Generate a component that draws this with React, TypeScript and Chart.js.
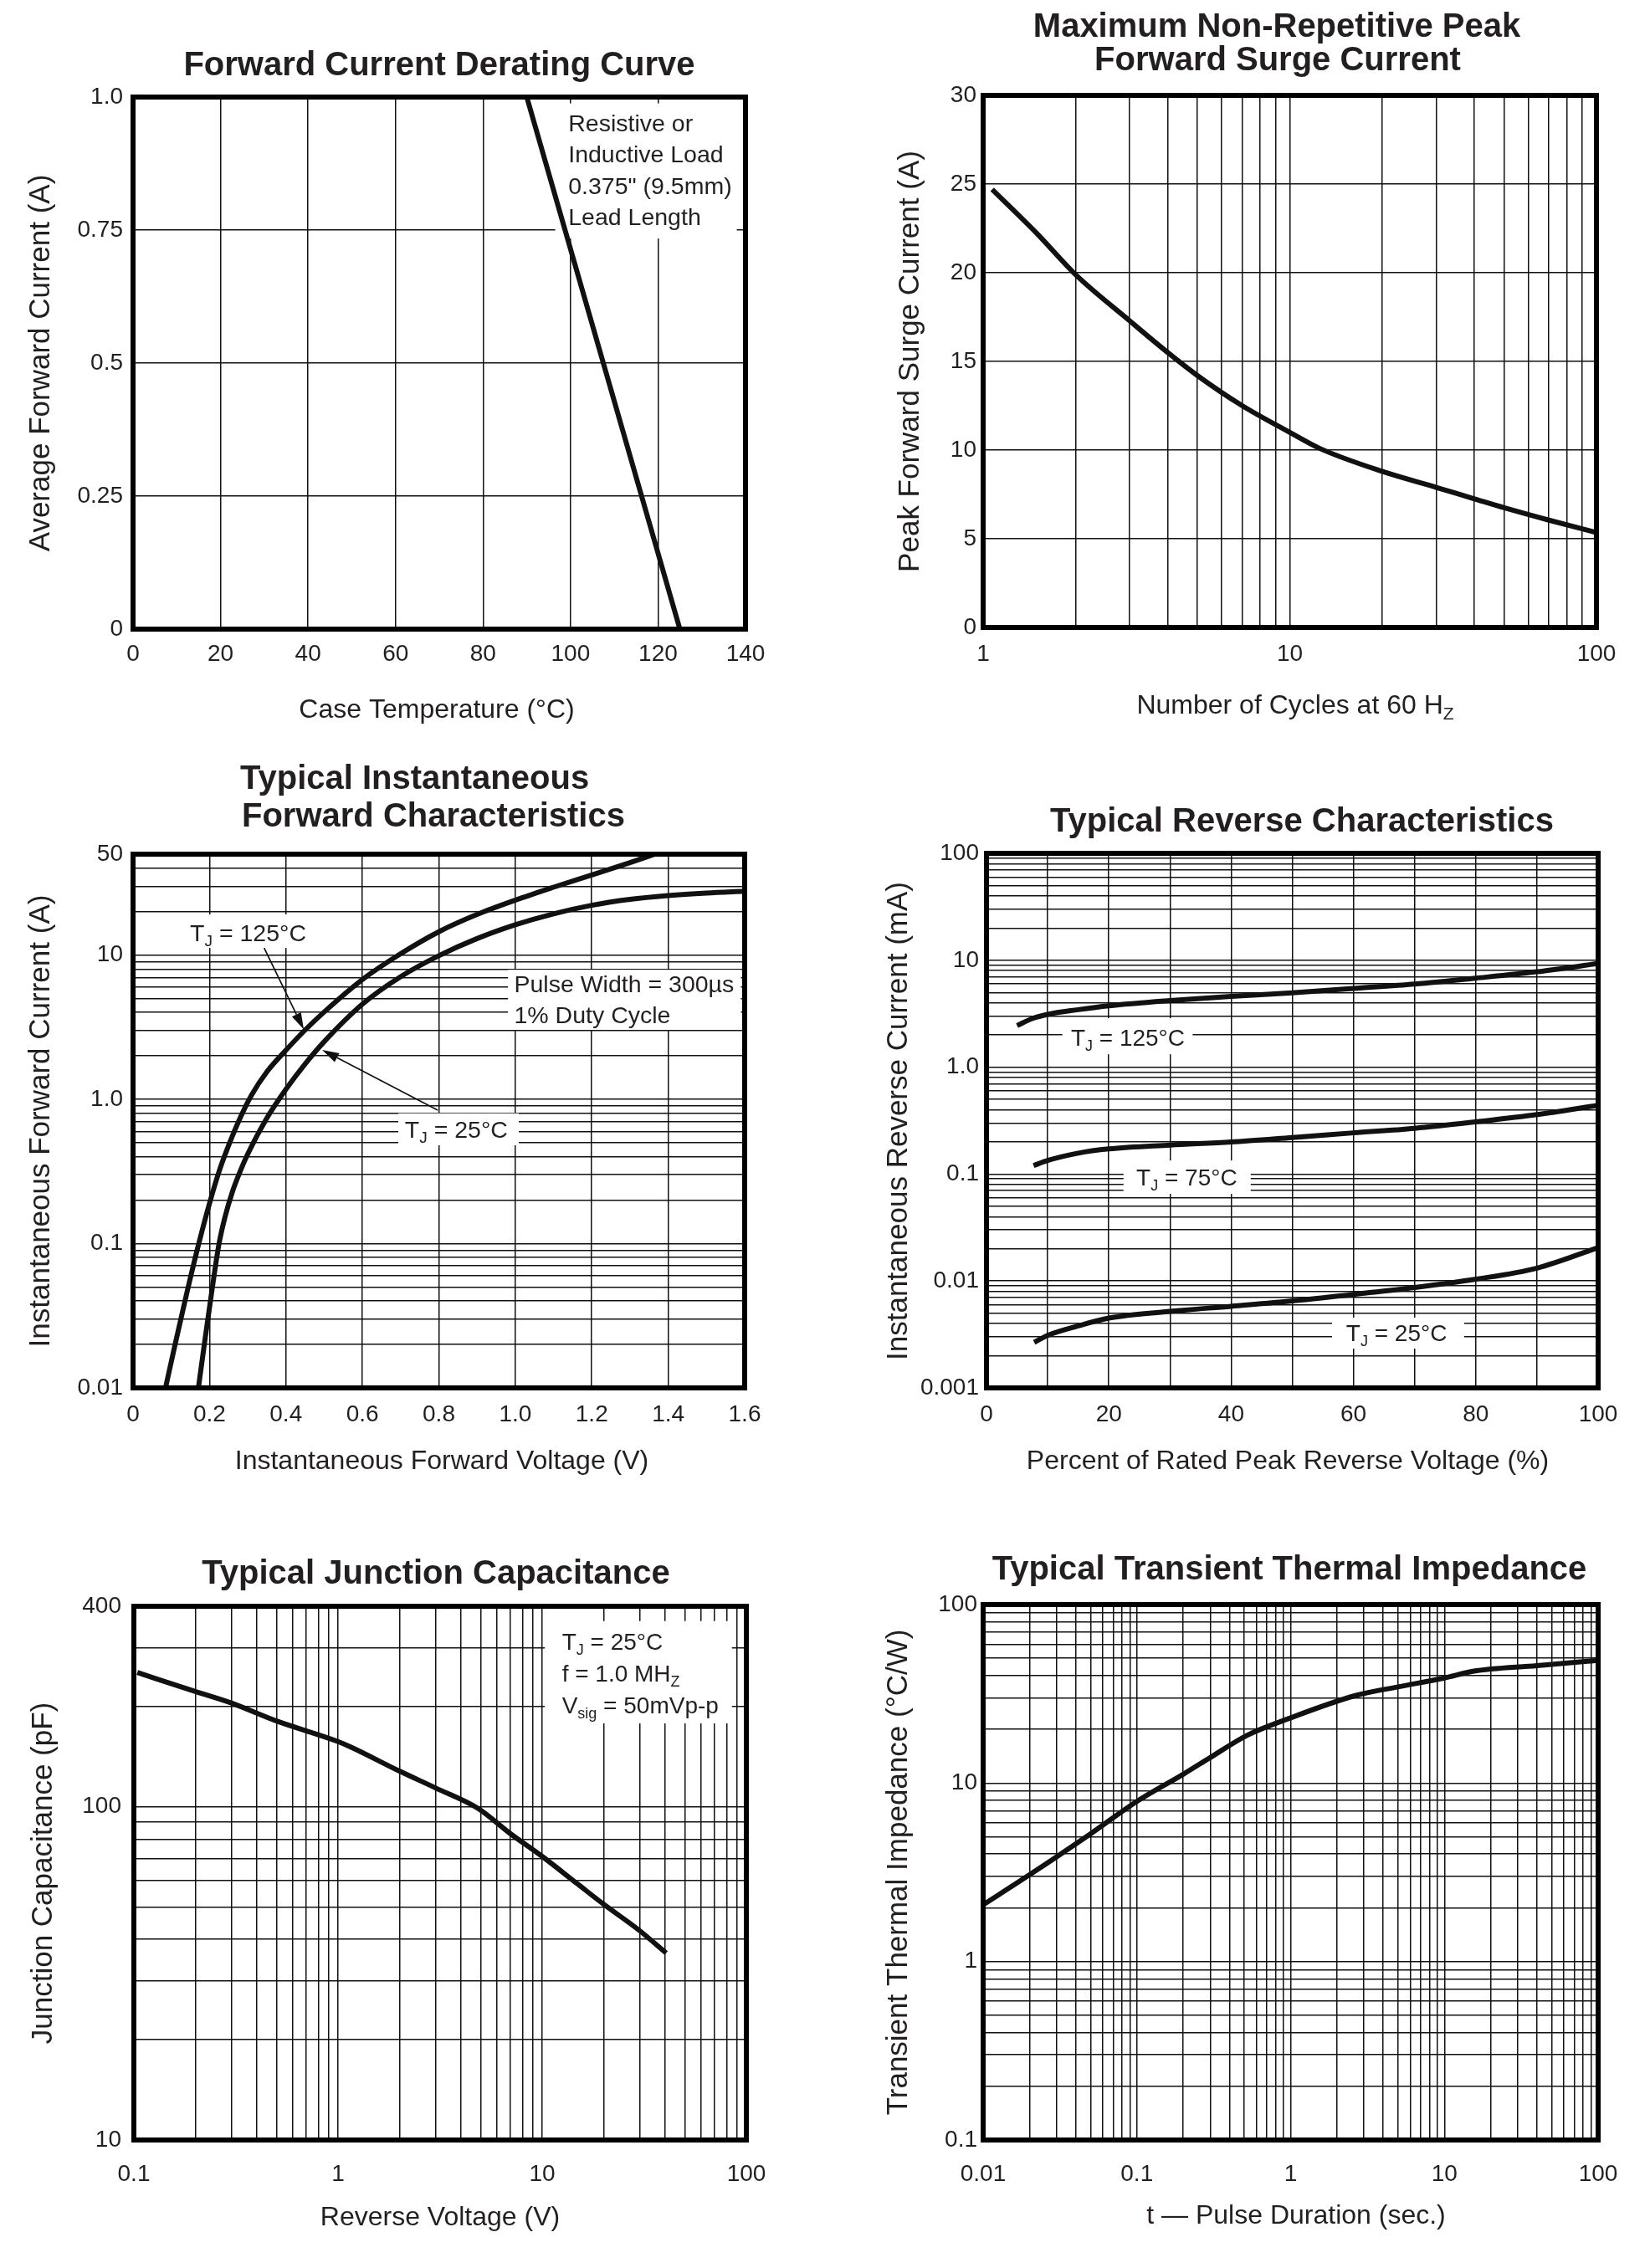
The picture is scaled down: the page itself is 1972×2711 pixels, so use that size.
import React, { useEffect, useRef } from 'react';
import { Chart, registerables } from 'chart.js';

Chart.register(...registerables);

const FONT = "'Liberation Sans', Arial, Helvetica, sans-serif";
const INK = '#231f20';
const LINE = '#111111';

// ---------------- Panel 1: Forward Current Derating Curve ----------------
const derateTempC = [0, 90, 125];
const derateCurrentA = [1.0, 1.0, 0];
const p1XTickValues = [0, 20, 40, 60, 80, 100, 120, 140];
const p1XTickLabels = ['0', '20', '40', '60', '80', '100', '120', '140'];
const p1YTickValues = [0, 0.25, 0.5, 0.75, 1.0];
const p1YTickLabels = ['0', '0.25', '0.5', '0.75', '1.0'];

// ---------------- Panel 2: Peak Forward Surge Current ----------------
const surgeCycles = [1.07, 1.5, 2, 3, 4, 5, 7, 10, 12.5, 20, 30, 40, 50, 70, 100];
const surgeCurrentA = [24.7, 22.2, 19.9, 17.3, 15.5, 14.2, 12.5, 11.0, 10.1, 8.8, 7.9, 7.25, 6.75, 6.05, 5.35];
const p2XLabelValues = [1, 10, 100];
const p2XTickLabels = ['1', '10', '100'];
const p2YTickValues = [0, 5, 10, 15, 20, 25, 30];
const p2YTickLabels = ['0', '5', '10', '15', '20', '25', '30'];

// ---------------- Panel 3: Forward Characteristics ----------------
const fwdV125 = [0.085, 0.11, 0.14, 0.17, 0.2, 0.225, 0.25, 0.28, 0.31, 0.35, 0.4, 0.45, 0.5, 0.6, 0.7, 0.8, 0.9, 1.0, 1.1, 1.2, 1.3, 1.365];
const fwdI125 = [0.01, 0.02, 0.0447, 0.0955, 0.19, 0.316, 0.479, 0.741, 1.07, 1.55, 2.19, 3.02, 4.03, 6.76, 10.2, 14.5, 19.1, 24.0, 29.5, 35.9, 43.7, 50];
const fwdV25 = [0.171, 0.19, 0.205, 0.225, 0.24, 0.26, 0.28, 0.3, 0.35, 0.4, 0.45, 0.5, 0.6, 0.7, 0.8, 0.9, 1.0, 1.1, 1.2, 1.3, 1.4, 1.5, 1.6];
const fwdI25 = [0.01, 0.0234, 0.0447, 0.1, 0.151, 0.229, 0.316, 0.417, 0.741, 1.175, 1.758, 2.51, 4.57, 7.08, 9.89, 13.0, 16.2, 19.3, 22.1, 24.3, 25.8, 26.9, 27.7];
const p3XTickValues = [0, 0.2, 0.4, 0.6, 0.8, 1.0, 1.2, 1.4, 1.6];
const p3XTickLabels = ['0', '0.2', '0.4', '0.6', '0.8', '1.0', '1.2', '1.4', '1.6'];
const p3YLabelValues = [0.01, 0.1, 1, 10, 50];
const p3YTickLabels = ['0.01', '0.1', '1.0', '10', '50'];

// ---------------- Panel 4: Reverse Characteristics ----------------
const revPct125 = [5, 7.5, 10, 15, 20, 30, 40, 50, 60, 70, 80, 90, 100];
const revI125 = [2.45, 2.85, 3.12, 3.45, 3.75, 4.2, 4.6, 4.95, 5.45, 6.0, 6.8, 7.8, 9.3];
const revPct75 = [7.7, 10, 15, 20, 30, 40, 50, 60, 70, 80, 90, 100];
const revI75 = [0.12, 0.134, 0.157, 0.172, 0.187, 0.2, 0.22, 0.243, 0.268, 0.308, 0.36, 0.44];
const revPct25 = [7.8, 10, 15, 20, 30, 40, 50, 60, 70, 80, 90, 100];
const revI25 = [0.00267, 0.0031, 0.0038, 0.0045, 0.0052, 0.0058, 0.0065, 0.0075, 0.0087, 0.0104, 0.0132, 0.0205];
const p4XTickValues = [0, 10, 20, 30, 40, 50, 60, 70, 80, 90, 100];
const p4XLabelValues = [0, 20, 40, 60, 80, 100];
const p4XTickLabels = ['0', '20', '40', '60', '80', '100'];
const p4YLabelValues = [0.001, 0.01, 0.1, 1, 10, 100];
const p4YTickLabels = ['0.001', '0.01', '0.1', '1.0', '10', '100'];

// ---------------- Panel 5: Junction Capacitance ----------------
const capV = [0.104, 0.2, 0.3, 0.5, 1.0, 1.16, 2, 3, 4.84, 7, 10, 15, 20, 30, 40.5];
const capPF = [253, 222, 205, 181, 157, 151, 128, 114, 99, 83, 71, 58.5, 51, 42.5, 36.4];
const p5XLabelValues = [0.1, 1, 10, 100];
const p5XTickLabels = ['0.1', '1', '10', '100'];
const p5YLabelValues = [10, 100, 400];
const p5YTickLabels = ['10', '100', '400'];

// ---------------- Panel 6: Transient Thermal Impedance ----------------
const pulseSec = [0.01, 0.02, 0.05, 0.1, 0.2, 0.3, 0.52, 1, 2.67, 5, 10, 15.3, 40, 100];
const thermalZ = [2.08, 3.06, 5.2, 7.9, 11.2, 13.9, 18.5, 23.2, 31, 34.6, 38.8, 42.3, 45.5, 48.7];
const p6XLabelValues = [0.01, 0.1, 1, 10, 100];
const p6XTickLabels = ['0.01', '0.1', '1', '10', '100'];
const p6YLabelValues = [0.1, 1, 10, 100];
const p6YTickLabels = ['0.1', '1', '10', '100'];

// ---------------- helpers ----------------
type Seg = { t: string; sub?: boolean };
type PageText = { segs: Seg[]; x: number; y: number; size: number; bold?: boolean; align: 'left' | 'center'; vertical?: boolean };
type DataText = { segs: Seg[]; x: number; y: number; size: number };
type Series = { x: number[]; y: number[]; smooth: boolean };
type AxisCfg = { type: 'linear' | 'logarithmic'; min: number; max: number; grid: number[]; labelVals: number[]; labels: string[]; pad: number };
type Panel = {
  cell: { x: number; y: number; w: number; h: number };
  plot: { L: number; T: number; R: number; B: number };
  x: AxisCfg;
  y: AxisCfg;
  series: Series[];
  pageTexts: PageText[];
  dataTexts: DataText[];
  boxes: number[][];
  arrows: number[][];
};

const S = (t: string): Seg[] => [{ t }];
const TJ = (rest: string): Seg[] => [{ t: 'T' }, { t: 'J', sub: true }, { t: rest }];

function logGridValues(min: number, max: number): number[] {
  const out: number[] = [];
  const e0 = Math.floor(Math.log10(min) + 1e-9);
  const e1 = Math.ceil(Math.log10(max) - 1e-9);
  for (let e = e0; e <= e1; e++) {
    for (let m = 1; m <= 9; m++) {
      const v = parseFloat((m * Math.pow(10, e)).toPrecision(6));
      if (v >= min * (1 - 1e-9) && v <= max * (1 + 1e-9)) out.push(v);
    }
  }
  return out;
}

const labeler = (vals: number[], labels: string[]) => (v: any) => {
  const n = Number(v);
  const i = vals.findIndex((t) => Math.abs(t - n) <= Math.abs(t) * 1e-6 + 1e-9);
  return i >= 0 ? labels[i] : '';
};

function drawRich(ctx: CanvasRenderingContext2D, segs: Seg[], x: number, y: number, size: number, bold: boolean, align: 'left' | 'center') {
  const w = bold ? 'bold ' : '';
  const mainFont = `${w}${size}px ${FONT}`;
  const subSize = Math.round(size * 0.66);
  const subFont = `${w}${subSize}px ${FONT}`;
  let total = 0;
  const widths = segs.map((s) => {
    ctx.font = s.sub ? subFont : mainFont;
    const m = ctx.measureText(s.t).width;
    total += m;
    return m;
  });
  let cx = align === 'center' ? x - total / 2 : x;
  ctx.textAlign = 'left';
  ctx.textBaseline = 'alphabetic';
  segs.forEach((s, i) => {
    ctx.font = s.sub ? subFont : mainFont;
    ctx.fillText(s.t, cx, s.sub ? y + size * 0.22 : y);
    cx += widths[i];
  });
}

function drawArrow(ctx: CanvasRenderingContext2D, x1: number, y1: number, x2: number, y2: number) {
  const ang = Math.atan2(y2 - y1, x2 - x1);
  const headL = 20;
  const headW = 6;
  const bx = x2 - headL * Math.cos(ang);
  const by = y2 - headL * Math.sin(ang);
  ctx.beginPath();
  ctx.moveTo(x1, y1);
  ctx.lineTo(bx, by);
  ctx.lineWidth = 1.7;
  ctx.strokeStyle = LINE;
  ctx.stroke();
  ctx.beginPath();
  ctx.moveTo(x2, y2);
  ctx.lineTo(bx + headW * Math.sin(ang), by - headW * Math.cos(ang));
  ctx.lineTo(bx - headW * Math.sin(ang), by + headW * Math.cos(ang));
  ctx.closePath();
  ctx.fillStyle = LINE;
  ctx.fill();
}

function makeDecor(p: Panel) {
  return {
    id: 'decor',
    beforeDatasetsDraw(chart: any) {
      const ctx: CanvasRenderingContext2D = chart.ctx;
      const xs = chart.scales.x;
      const ys = chart.scales.y;
      ctx.save();
      ctx.fillStyle = '#ffffff';
      for (const [x1, y1, x2, y2] of p.boxes) {
        const a = xs.getPixelForValue(x1);
        const b = xs.getPixelForValue(x2);
        const c = ys.getPixelForValue(y2);
        const d = ys.getPixelForValue(y1);
        ctx.fillRect(a, c, b - a, d - c);
      }
      ctx.restore();
    },
    afterDatasetsDraw(chart: any) {
      const ctx: CanvasRenderingContext2D = chart.ctx;
      const xs = chart.scales.x;
      const ys = chart.scales.y;
      const ca = chart.chartArea;
      ctx.save();
      // plot frame
      ctx.strokeStyle = '#000';
      ctx.lineWidth = 6;
      ctx.strokeRect(ca.left, ca.top, ca.right - ca.left, ca.bottom - ca.top);
      // arrows
      for (const [x1, y1, x2, y2] of p.arrows) {
        drawArrow(ctx, xs.getPixelForValue(x1), ys.getPixelForValue(y1), xs.getPixelForValue(x2), ys.getPixelForValue(y2));
      }
      ctx.fillStyle = INK;
      for (const t of p.dataTexts) {
        drawRich(ctx, t.segs, xs.getPixelForValue(t.x), ys.getPixelForValue(t.y), t.size, false, 'left');
      }
      for (const t of p.pageTexts) {
        const px = t.x - p.cell.x;
        const py = t.y - p.cell.y;
        if (t.vertical) {
          ctx.save();
          ctx.translate(px, py);
          ctx.rotate(-Math.PI / 2);
          drawRich(ctx, t.segs, 0, 0, t.size, !!t.bold, 'center');
          ctx.restore();
        } else {
          drawRich(ctx, t.segs, px, py, t.size, !!t.bold, t.align);
        }
      }
      ctx.restore();
    },
  };
}

function axisOptions(a: AxisCfg, horizontal: boolean, fixed: number) {
  return {
    type: a.type,
    position: horizontal ? 'bottom' : 'left',
    min: a.min,
    max: a.max,
    afterBuildTicks: (scale: any) => {
      scale.ticks = a.grid.map((v) => ({ value: v }));
    },
    afterFit: (scale: any) => {
      if (horizontal) scale.height = fixed;
      else scale.width = fixed;
    },
    ticks: {
      autoSkip: false,
      maxRotation: 0,
      minRotation: 0,
      padding: a.pad,
      color: INK,
      font: { family: FONT, size: 28 },
      callback: labeler(a.labelVals, a.labels),
    },
    grid: { color: LINE, lineWidth: 1.5, drawTicks: false },
    border: { display: false },
    title: { display: false },
  };
}

function buildConfig(p: Panel): any {
  const padTop = p.plot.T - p.cell.y;
  const wY = p.plot.L - p.cell.x;
  const padRight = p.cell.x + p.cell.w - p.plot.R;
  const hX = p.cell.y + p.cell.h - p.plot.B;
  return {
    type: 'scatter',
    data: {
      datasets: p.series.map((s) => ({
        data: s.x.map((x, i) => ({ x, y: s.y[i] })),
        showLine: true,
        borderColor: LINE,
        backgroundColor: LINE,
        borderWidth: 6,
        pointRadius: 0,
        pointHoverRadius: 0,
        fill: false,
        tension: s.smooth ? 0.4 : 0,
        cubicInterpolationMode: s.smooth ? 'monotone' : 'default',
        borderJoinStyle: 'miter',
      })),
    },
    options: {
      responsive: false,
      animation: false,
      events: [],
      layout: { padding: { top: padTop, right: padRight, left: 0, bottom: 0 } },
      plugins: { legend: { display: false }, tooltip: { enabled: false }, title: { display: false } },
      scales: {
        x: axisOptions(p.x, true, hX),
        y: axisOptions(p.y, false, wY),
      },
    },
    plugins: [makeDecor(p)],
  };
}

// ---------------- panels ----------------
const panels: Panel[] = [
  {
    cell: { x: 0, y: 0, w: 986, h: 880 },
    plot: { L: 159, T: 116, R: 891, B: 752 },
    x: { type: 'linear', min: 0, max: 140, grid: p1XTickValues, labelVals: p1XTickValues, labels: p1XTickLabels, pad: 13 },
    y: { type: 'linear', min: 0, max: 1.0, grid: p1YTickValues, labelVals: p1YTickValues, labels: p1YTickLabels, pad: 12 },
    series: [{ x: derateTempC, y: derateCurrentA, smooth: false }],
    pageTexts: [
      { segs: S('Forward Current Derating Curve'), x: 525, y: 90, size: 40, bold: true, align: 'center' },
      { segs: S('Case Temperature (°C)'), x: 522, y: 858, size: 32, align: 'center' },
      { segs: S('Average Forward Current (A)'), x: 59, y: 434, size: 35, align: 'center', vertical: true },
    ],
    dataTexts: [
      { segs: S('Resistive or'), x: 99.5, y: 0.936, size: 28.5 },
      { segs: S('Inductive Load'), x: 99.5, y: 0.877, size: 28.5 },
      { segs: S('0.375" (9.5mm)'), x: 99.5, y: 0.818, size: 28.5 },
      { segs: S('Lead Length'), x: 99.5, y: 0.759, size: 28.5 },
    ],
    boxes: [[96.5, 0.734, 138, 0.988]],
    arrows: [],
  },
  {
    cell: { x: 986, y: 0, w: 986, h: 880 },
    plot: { L: 1175, T: 114, R: 1908, B: 750 },
    x: { type: 'logarithmic', min: 1, max: 100, grid: logGridValues(1, 100), labelVals: p2XLabelValues, labels: p2XTickLabels, pad: 15 },
    y: { type: 'linear', min: 0, max: 30, grid: p2YTickValues, labelVals: p2YTickValues, labels: p2YTickLabels, pad: 8 },
    series: [{ x: surgeCycles, y: surgeCurrentA, smooth: true }],
    pageTexts: [
      { segs: S('Maximum Non-Repetitive Peak'), x: 1526, y: 44, size: 40, bold: true, align: 'center' },
      { segs: S('Forward Surge Current'), x: 1527, y: 84, size: 40, bold: true, align: 'center' },
      { segs: [{ t: 'Number of Cycles at 60 H' }, { t: 'Z', sub: true }], x: 1548, y: 853, size: 32, align: 'center' },
      { segs: S('Peak Forward Surge Current (A)'), x: 1098, y: 432, size: 35, align: 'center', vertical: true },
    ],
    dataTexts: [],
    boxes: [],
    arrows: [],
  },
  {
    cell: { x: 0, y: 880, w: 986, h: 900 },
    plot: { L: 159, T: 1021, R: 890, B: 1659 },
    x: { type: 'linear', min: 0, max: 1.6, grid: p3XTickValues, labelVals: p3XTickValues, labels: p3XTickLabels, pad: 15 },
    y: { type: 'logarithmic', min: 0.01, max: 50, grid: logGridValues(0.01, 50), labelVals: p3YLabelValues, labels: p3YTickLabels, pad: 12 },
    series: [
      { x: fwdV125, y: fwdI125, smooth: true },
      { x: fwdV25, y: fwdI25, smooth: true },
    ],
    pageTexts: [
      { segs: S('Typical Instantaneous'), x: 287, y: 943, size: 40, bold: true, align: 'left' },
      { segs: S('Forward Characteristics'), x: 289, y: 988, size: 40, bold: true, align: 'left' },
      { segs: S('Instantaneous Forward Voltage (V)'), x: 528, y: 1756, size: 32, align: 'center' },
      { segs: S('Instantaneous Forward Current (A)'), x: 59, y: 1340, size: 35, align: 'center', vertical: true },
    ],
    dataTexts: [
      { segs: TJ(' = 125°C'), x: 0.149, y: 12.5, size: 28.5 },
      { segs: TJ(' = 25°C'), x: 0.711, y: 0.541, size: 28.5 },
      { segs: S('Pulse Width = 300µs'), x: 0.997, y: 5.52, size: 28.5 },
      { segs: S('1% Duty Cycle'), x: 0.997, y: 3.35, size: 28.5 },
    ],
    boxes: [
      [0.138, 11.2, 0.462, 19.1],
      [0.694, 0.48, 1.009, 0.8],
      [0.981, 3.03, 1.59, 7.9],
    ],
    arrows: [
      [0.343, 11.2, 0.4466, 3.05],
      [0.797, 0.84, 0.4947, 2.2],
    ],
  },
  {
    cell: { x: 986, y: 880, w: 986, h: 900 },
    plot: { L: 1179, T: 1020, R: 1910, B: 1659 },
    x: { type: 'linear', min: 0, max: 100, grid: p4XTickValues, labelVals: p4XLabelValues, labels: p4XTickLabels, pad: 15 },
    y: { type: 'logarithmic', min: 0.001, max: 100, grid: logGridValues(0.001, 100), labelVals: p4YLabelValues, labels: p4YTickLabels, pad: 9 },
    series: [
      { x: revPct125, y: revI125, smooth: true },
      { x: revPct75, y: revI75, smooth: true },
      { x: revPct25, y: revI25, smooth: true },
    ],
    pageTexts: [
      { segs: S('Typical Reverse Characteristics'), x: 1556, y: 994, size: 40, bold: true, align: 'center' },
      { segs: S('Percent of Rated Peak Reverse Voltage (%)'), x: 1539, y: 1756, size: 32, align: 'center' },
      { segs: S('Instantaneous Reverse Current (mA)'), x: 1084, y: 1340, size: 35, align: 'center', vertical: true },
    ],
    dataTexts: [
      { segs: TJ(' = 125°C'), x: 13.8, y: 1.585, size: 28 },
      { segs: TJ(' = 75°C'), x: 24.5, y: 0.0783, size: 28 },
      { segs: TJ(' = 25°C'), x: 58.8, y: 0.00274, size: 28 },
    ],
    boxes: [
      [12.4, 1.32, 33.7, 2.87],
      [22.4, 0.0653, 43.2, 0.134],
      [56.5, 0.00233, 78.1, 0.00454],
    ],
    arrows: [],
  },
  {
    cell: { x: 0, y: 1780, w: 986, h: 931 },
    plot: { L: 160, T: 1920, R: 892, B: 2558 },
    x: { type: 'logarithmic', min: 0.1, max: 100, grid: logGridValues(0.1, 100), labelVals: p5XLabelValues, labels: p5XTickLabels, pad: 24 },
    y: { type: 'logarithmic', min: 10, max: 400, grid: logGridValues(10, 400), labelVals: p5YLabelValues, labels: p5YTickLabels, pad: 15 },
    series: [{ x: capV, y: capPF, smooth: true }],
    pageTexts: [
      { segs: S('Typical Junction Capacitance'), x: 521, y: 1893, size: 40, bold: true, align: 'center' },
      { segs: S('Reverse Voltage (V)'), x: 526, y: 2660, size: 32, align: 'center' },
      { segs: S('Junction Capacitance (pF)'), x: 62, y: 2239, size: 35, align: 'center', vertical: true },
    ],
    dataTexts: [
      { segs: TJ(' = 25°C'), x: 12.5, y: 296, size: 28 },
      { segs: [{ t: 'f = 1.0 MH' }, { t: 'Z', sub: true }], x: 12.5, y: 238, size: 28 },
      { segs: [{ t: 'V' }, { t: 'sig', sub: true }, { t: ' = 50mVp-p' }], x: 12.5, y: 191, size: 28 },
    ],
    boxes: [[10.3, 178, 85, 361]],
    arrows: [],
  },
  {
    cell: { x: 986, y: 1780, w: 986, h: 931 },
    plot: { L: 1175, T: 1918, R: 1910, B: 2558 },
    x: { type: 'logarithmic', min: 0.01, max: 100, grid: logGridValues(0.01, 100), labelVals: p6XLabelValues, labels: p6XTickLabels, pad: 24 },
    y: { type: 'logarithmic', min: 0.1, max: 100, grid: logGridValues(0.1, 100), labelVals: p6YLabelValues, labels: p6YTickLabels, pad: 7 },
    series: [{ x: pulseSec, y: thermalZ, smooth: true }],
    pageTexts: [
      { segs: S('Typical Transient Thermal Impedance'), x: 1541, y: 1888, size: 40, bold: true, align: 'center' },
      { segs: S('t — Pulse Duration (sec.)'), x: 1549, y: 2658, size: 32, align: 'center' },
      { segs: S('Transient Thermal Impedance (°C/W)'), x: 1084, y: 2238, size: 35, align: 'center', vertical: true },
    ],
    dataTexts: [],
    boxes: [],
    arrows: [],
  },
];

function PanelChart({ p }: { p: Panel }) {
  const ref = useRef<HTMLCanvasElement | null>(null);
  useEffect(() => {
    const canvas = ref.current;
    if (!canvas) return;
    const chart = new Chart(canvas, buildConfig(p));
    return () => chart.destroy();
  }, [p]);
  return (
    <canvas
      ref={ref}
      width={p.cell.w}
      height={p.cell.h}
      style={{ position: 'absolute', left: p.cell.x, top: p.cell.y, width: p.cell.w, height: p.cell.h }}
    />
  );
}

export default function App() {
  return (
    <div style={{ position: 'absolute', left: 0, top: 0, width: 1972, height: 2711, background: '#ffffff', overflow: 'hidden' }}>
      {panels.map((p, i) => (
        <PanelChart key={i} p={p} />
      ))}
    </div>
  );
}
